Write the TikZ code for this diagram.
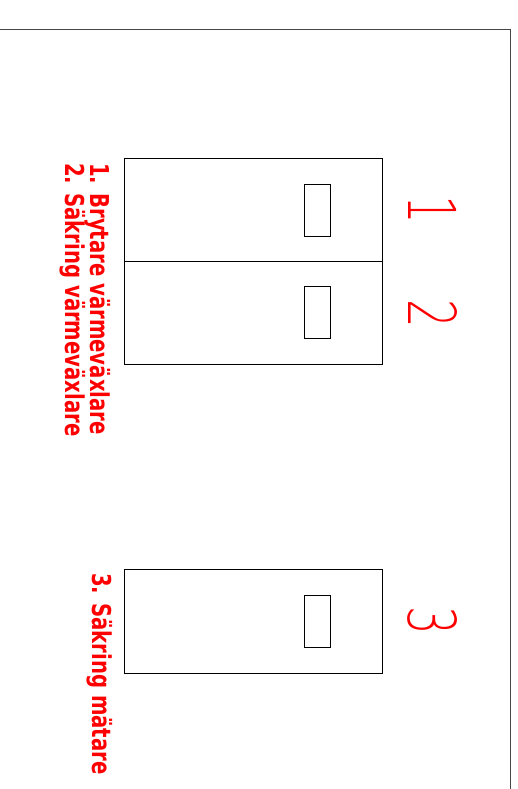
\documentclass[tikz,border=0pt]{standalone}
\usepackage{fontspec}
\newfontfamily\labelfont[FakeStretch=0.84]{DejaVu Sans Condensed}
\IfFontExistsTF{DejaVu Sans ExtraLight}
  {\newfontfamily\numfont[FakeStretch=0.68]{DejaVu Sans ExtraLight}}
  {\newfontfamily\numfont[FakeStretch=0.68]{Liberation Sans}}
\definecolor{labelred}{RGB}{255,0,0}
\definecolor{framegray}{RGB}{70,70,70}
\begin{document}
\begin{tikzpicture}[x=1pt,y=-1pt]
\tikzstyle{panel}=[draw, rectangle, line width=0.8pt, inner sep=0pt, outer sep=0pt, minimum width=258pt]
\tikzstyle{switch}=[draw, rectangle, line width=0.8pt, inner sep=0pt, outer sep=0pt, minimum width=26pt, minimum height=52pt]
\tikzstyle{label}=[text=labelred, rotate=-90, anchor=base west, inner sep=0pt, font=\labelfont\bfseries\fontsize{26}{26}\selectfont]
\tikzstyle{number}=[text=labelred, rotate=-90, anchor=base, inner sep=0pt, font=\numfont\fontsize{66}{66}\selectfont]
\tikzstyle{frame}=[draw=framegray, line width=1pt]

\useasboundingbox (0,0) rectangle (518,789);

% Sheet border
\draw[frame] (0,30) -- (510,30) -- (510,789);

% Panels
\node[panel, minimum height=103pt] (panelA) at (253,209.5) {};
\node[panel, minimum height=103pt] (panelB) at (253,312.5) {};
\node[panel, minimum height=104pt] (panelC) at (253,621) {};

% Switches
\node[switch] (swA) at (317,210) {};
\node[switch] (swB) at (317,312.5) {};
\node[switch] (swC) at (317,621) {};

% Numbers
\node[number] (numA) at (408,209.5) {1};
\node[number] (numB) at (408,314) {2};
\node[number] (numC) at (408,621) {3};

% Legend
\node[label] (lblA) at (90,163) {1. Brytare värmeväxlare};
\node[label] (lblB) at (65,163) {2. Säkring värmeväxlare};
\node[label] (lblC) at (92,573) {3. Säkring mätare};
\end{tikzpicture}
\end{document}
